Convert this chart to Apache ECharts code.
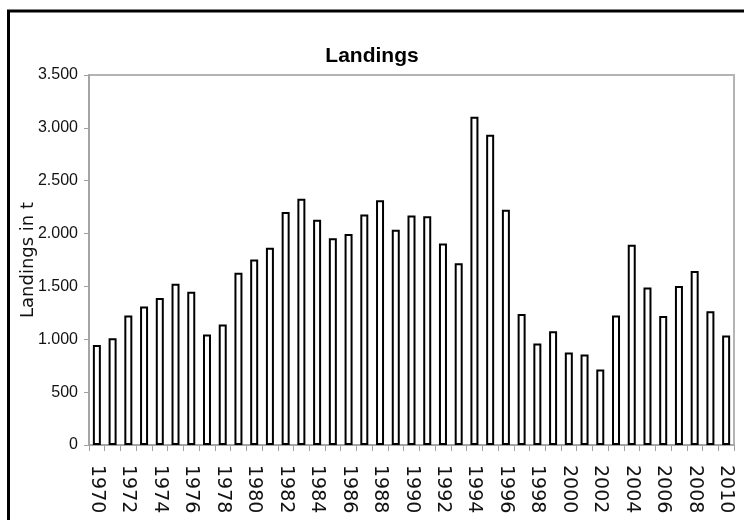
<!DOCTYPE html>
<html>
<head>
<meta charset="utf-8">
<script src="https://cdn.jsdelivr.net/npm/echarts@6/dist/echarts.min.js"></script>
<style>
html,body{margin:0;padding:0;background:#fff;}
#chart{width:744px;height:520px;}
</style>
</head>
<body>
<div id="chart"></div>
<script>
var years = [];
for (var y = 1970; y <= 2010; y++) years.push(String(y));
var landings = [945, 1010, 1225, 1310, 1390, 1525, 1450, 1045, 1140, 1630,
  1755, 1865, 2205, 2330, 2130, 1955, 1995, 2180, 2315, 2035,
  2170, 2165, 1905, 1720, 3105, 2935, 2225, 1240, 960, 1075,
  875, 855, 715, 1225, 1895, 1490, 1220, 1505, 1645, 1265, 1035];
var titleText = 'Landings';
var yName = 'Landings in t';

function fmt(v) {
  var s = String(Math.round(v));
  return s.replace(/\B(?=(\d{3})+(?!\d))/g, '.');
}

var chart = echarts.init(document.getElementById('chart'), null, {renderer: 'canvas'});
chart.setOption({
  animation: false,
  backgroundColor: '#fff',
  title: {
    text: titleText,
    left: 'center',
    top: 41,
    textStyle: {
      fontFamily: '"Liberation Sans", Arial, sans-serif',
      fontWeight: 'bold',
      fontSize: 21,
      color: '#000'
    }
  },
  graphic: [{
    type: 'rect',
    shape: {x: 8.5, y: 11, width: 800, height: 600},
    style: {fill: 'none', stroke: '#000', lineWidth: 3},
    silent: true
  }],
  grid: {
    left: 89, right: 10, top: 75, bottom: 75,
    show: true,
    borderColor: '#b4b4b4',
    borderWidth: 2,
    backgroundColor: 'transparent'
  },
  xAxis: {
    type: 'category',
    data: years,
    boundaryGap: true,
    axisLine: {lineStyle: {color: '#a0a0a0', width: 1.5}},
    axisTick: {show: true, interval: 0, length: 6, lineStyle: {color: '#a0a0a0'}},
    axisLabel: {
      interval: 1,
      rotate: -90,
      margin: 20,
      fontFamily: '"DejaVu Sans", sans-serif',
      fontSize: 19,
      color: '#111'
    }
  },
  yAxis: {
    type: 'value',
    min: 0, max: 3500, interval: 500,
    name: yName,
    nameLocation: 'middle',
    nameRotate: 90,
    nameGap: 52,
    nameMoveOverlap: false,
    nameTextStyle: {
      fontFamily: '"DejaVu Sans", sans-serif',
      fontSize: 18,
      color: '#111'
    },
    axisLine: {show: true, lineStyle: {color: '#a0a0a0', width: 1.5}},
    axisTick: {show: true, length: 5, lineStyle: {color: '#a0a0a0'}},
    splitLine: {show: false},
    axisLabel: {
      margin: 11,
      formatter: fmt,
      fontFamily: '"Liberation Sans", Arial, sans-serif',
      fontSize: 16,
      color: '#111'
    }
  },
  series: [{
    type: 'bar',
    data: landings,
    barWidth: 8,
    itemStyle: {color: '#fff', borderColor: '#000', borderWidth: 2},
    silent: true
  }]
});
</script>
</body>
</html>
